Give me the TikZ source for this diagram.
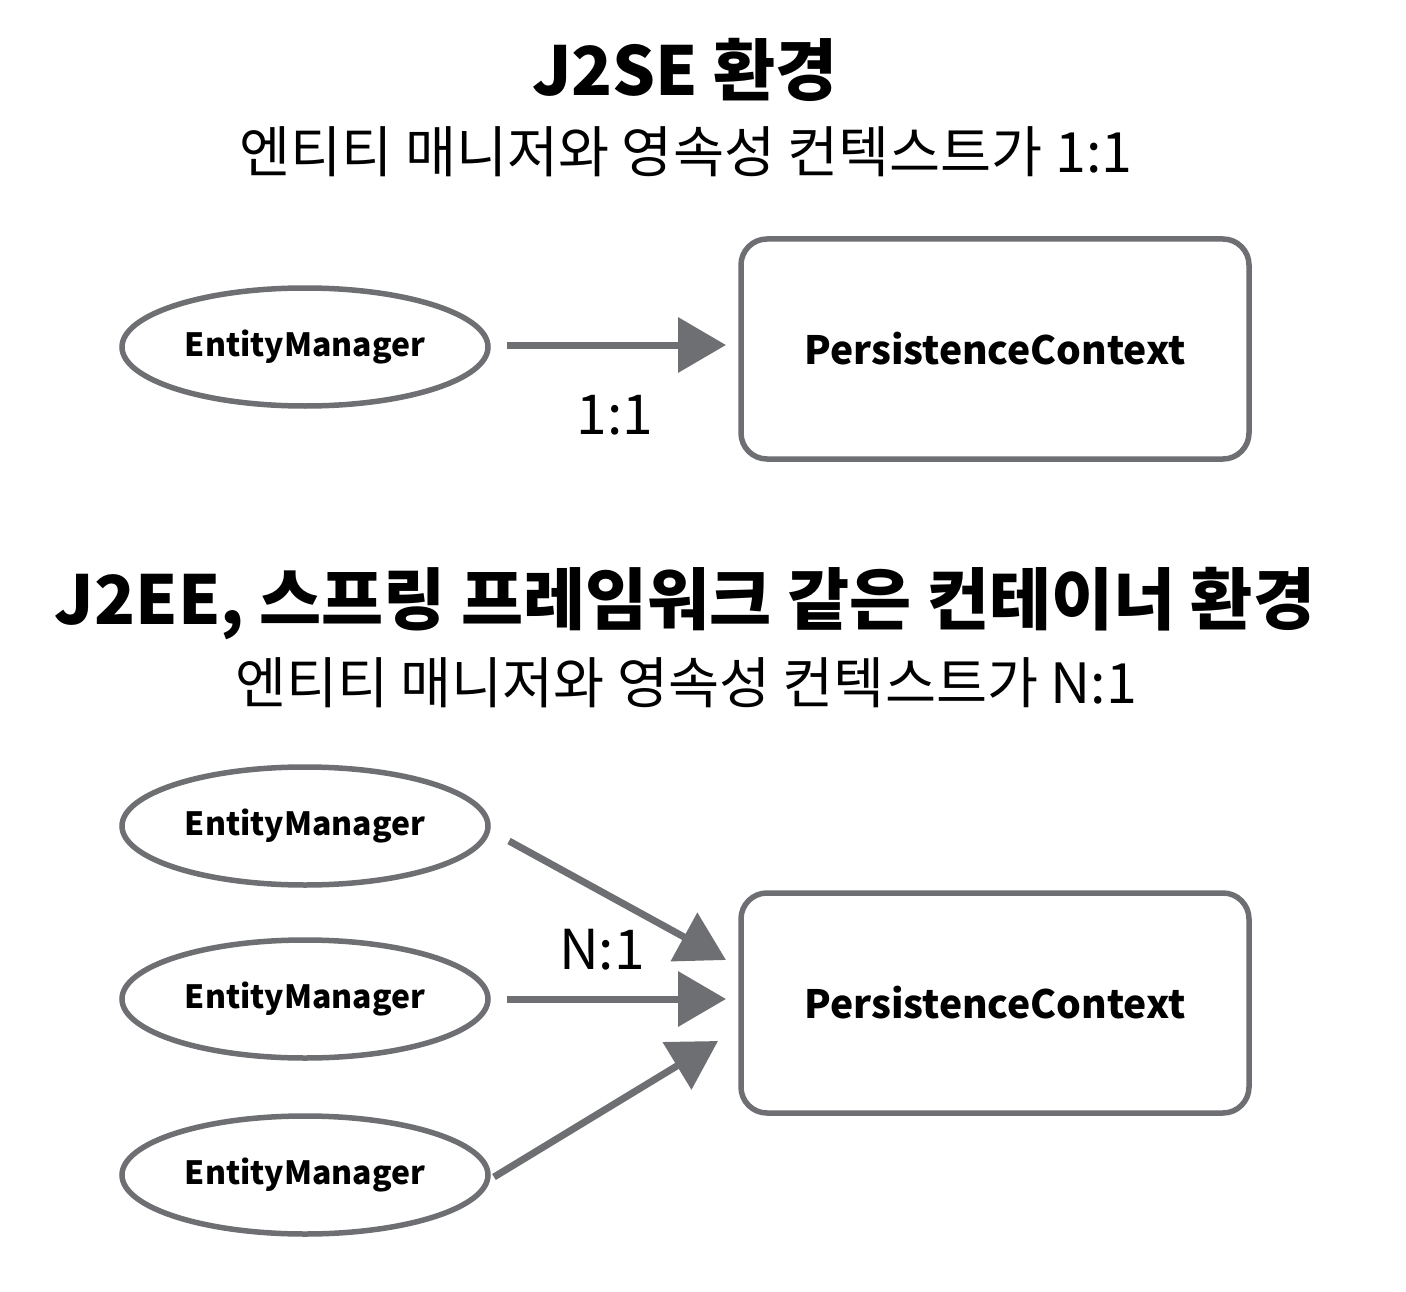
\documentclass[tikz,border=0pt]{standalone}
\usepackage{fontspec}
\setmainfont{Noto Sans CJK KR}
\usetikzlibrary{arrows.meta,shapes.geometric}
\definecolor{sk}{HTML}{6E6F72}
\tikzset{
  em/.style={ellipse, draw=sk, line width=5.5pt, minimum width=366pt, minimum height=118pt, font=\bfseries\fontsize{32}{35}\selectfont, inner sep=0pt},
  pc/.style={rectangle, rounded corners=26pt, draw=sk, line width=5.5pt, minimum width=508pt, minimum height=220pt, font=\bfseries\fontsize{39}{42}\selectfont},
  conn/.style={draw=sk, line width=7pt, -{Triangle[length=48pt,width=54pt]}},
  ttl/.style={font=\bfseries\fontsize{67.5}{72}\selectfont},
  sub/.style={font=\fontsize{55.5}{60}\selectfont},
  lbl/.style={font=\fontsize{55}{60}\selectfont}
}
\begin{document}
\begin{tikzpicture}[x=1pt,y=-1pt]
\useasboundingbox (0,0) rectangle (1406,1292);
% titles
\node[ttl] (t1) at (685,70) {J2SE 환경};
\node[sub] (s1) at (686,152) {엔티티 매니저와 영속성 컨텍스트가 1:1};
\node[ttl] (t2) at (685,604) {J2EE, 스프링 프레임워크 같은 컨테이너 환경};
\node[sub] (s2) at (686,683) {엔티티 매니저와 영속성 컨텍스트가 N:1};
% top diagram
\node[em] (e1) at (305,347) {EntityManager};
\node[pc] (p1) at (995,349) {PersistenceContext};
\coordinate (a1s) at (507,345);
\coordinate (a1e) at (726,345);
\draw[conn] (a1s) -- (a1e);
\node[lbl] (l1) at (615,415) {1:1};
% bottom diagram
\node[em] (e2) at (305,826) {EntityManager};
\node[em] (e3) at (305,999) {EntityManager};
\node[em] (e4) at (305,1175) {EntityManager};
\node[pc] (p2) at (995,1003) {PersistenceContext};
\coordinate (b1s) at (509,841);
\coordinate (b1e) at (726,960);
\coordinate (b2s) at (507,999);
\coordinate (b2e) at (726,999);
\coordinate (b3s) at (494,1177);
\coordinate (b3e) at (718,1041);
\draw[conn] (b1s) -- (b1e);
\draw[conn] (b2s) -- (b2e);
\draw[conn] (b3s) -- (b3e);
\node[lbl] (l2) at (602,950) {N:1};
\end{tikzpicture}
\end{document}
